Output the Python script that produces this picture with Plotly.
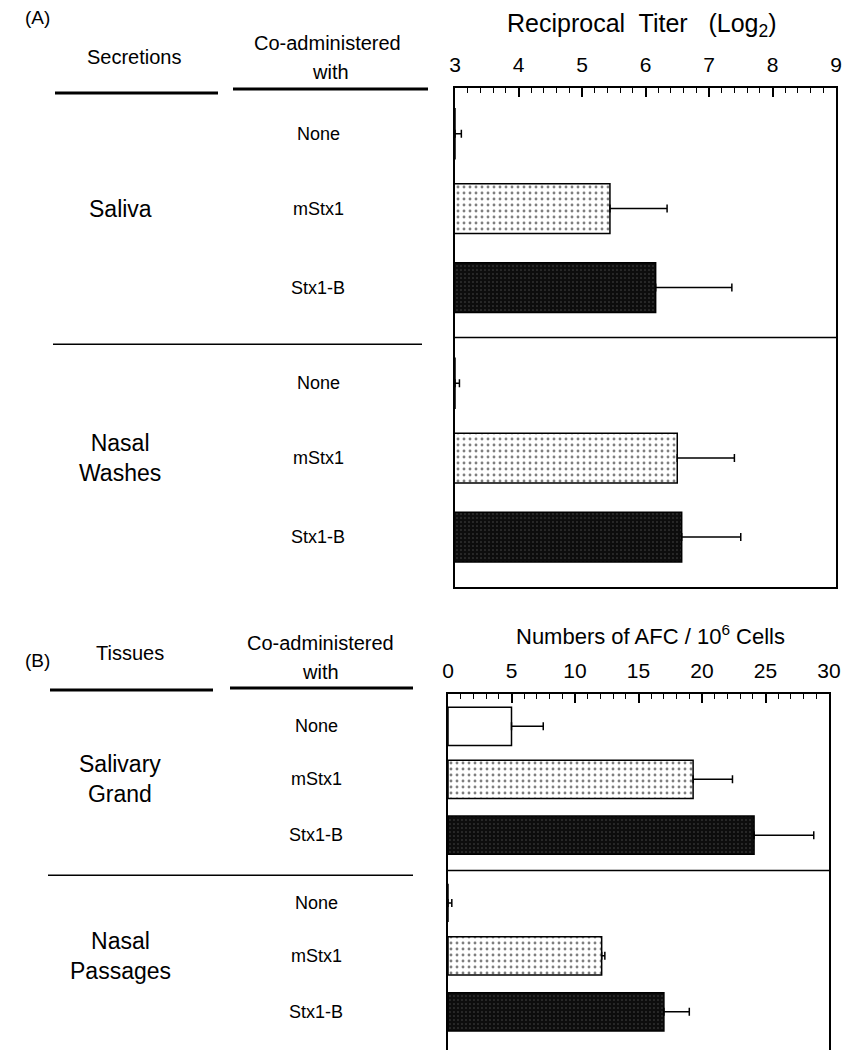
import plotly.graph_objects as go

# ---- data ----
treatments = ["None", "mStx1", "Stx1-B"]

# Panel A: reciprocal titer (log2)
secretions = ["Saliva", "Nasal<br>Washes"]
titer_mean = {"Saliva": [3.0, 5.44, 6.16], "Nasal<br>Washes": [3.0, 6.5, 6.57]}
titer_err = {"Saliva": [0.1, 0.9, 1.2], "Nasal<br>Washes": [0.07, 0.9, 0.93]}

# Panel B: antibody-forming cells per 10^6 cells
tissues = ["Salivary<br>Grand", "Nasal<br>Passages"]
afc_mean = {"Salivary<br>Grand": [5.0, 19.3, 24.1], "Nasal<br>Passages": [0.0, 12.1, 17.0]}
afc_err = {"Salivary<br>Grand": [2.5, 3.1, 4.7], "Nasal<br>Passages": [0.3, 0.25, 2.0]}

titer_ticks = [3, 4, 5, 6, 7, 8, 9]
afc_ticks = [0, 5, 10, 15, 20, 25, 30]

# ---- layout helpers ----
W, H = 843, 1050
FONT = "Liberation Sans, Arial, Helvetica, sans-serif"
ROW_OFFSETS = [0.55, 1.45, 2.4]      # row centres inside each 3-unit group


def px(x):
    return x / W


def py(y):
    return 1 - y / H


def fill_style(i):
    if i == 0:
        return dict(color="white")
    if i == 1:
        return dict(color="white",
                    pattern=dict(shape=".", fgcolor="black", bgcolor="white",
                                 size=6, solidity=0.18))
    return dict(color="#111111",
                pattern=dict(shape=".", fgcolor="#8a8a8a", bgcolor="#0d0d0d",
                             size=4, solidity=0.12))


fig = go.Figure()


def add_panel(groups, means, errs, xa, ya, width):
    for g, grp in enumerate(groups):
        for i, t in enumerate(treatments):
            yv = g * 3 + ROW_OFFSETS[i]
            st = fill_style(i)
            fig.add_trace(go.Bar(
                x=[means[grp][i]], y=[yv], orientation="h", width=width,
                marker=dict(line=dict(color="black", width=1.5), **st),
                error_x=dict(type="data", array=[errs[grp][i]], arrayminus=[0],
                             symmetric=False, color="black", thickness=1.5, width=4),
                xaxis=xa, yaxis=ya, showlegend=False, name=t,
            ))


add_panel(secretions, titer_mean, titer_err, "x", "y", 0.6)
add_panel(tissues, afc_mean, afc_err, "x2", "y2", 0.65)

axis_font = dict(family=FONT, size=21, color="black")
minor_ticks = dict(ticks="inside", ticklen=5, tickcolor="black", tickwidth=1.2)
common = dict(showline=True, linecolor="black", linewidth=1.5, showgrid=False,
              zeroline=False, automargin=False)

fig.update_layout(
    width=W, height=H, margin=dict(l=0, r=0, t=0, b=0, autoexpand=False),
    paper_bgcolor="white", plot_bgcolor="white",
    barmode="overlay", font=dict(family=FONT, color="black"),
    xaxis=dict(domain=[px(455), px(836)], range=[3, 9], side="top",
               tickvals=titer_ticks, ticks="inside", ticklen=9, tickwidth=1.5,
               tickcolor="black", tickfont=axis_font, ticklabelstandoff=6,
               minor=dict(dtick=0.2, **minor_ticks), mirror=True, anchor="y", **common),
    yaxis=dict(domain=[py(587), py(88)], range=[6, 0], showticklabels=False,
               mirror=True, ticks="", anchor="x", **common),
    xaxis2=dict(domain=[px(448), px(829)], range=[0, 30], side="top",
                tickvals=afc_ticks, ticks="inside", ticklen=9, tickwidth=1.5,
                tickcolor="black", tickfont=axis_font, ticklabelstandoff=6,
                minor=dict(dtick=1, **minor_ticks), mirror=False, anchor="y2", **common),
    yaxis2=dict(domain=[0, py(694)], range=[6.05, 0], showticklabels=False,
                mirror=True, ticks="", anchor="x2", **common),
)

shapes = []
annotations = []


def text(x, y, s, size, xref="paper", yref="paper", xanchor="center"):
    annotations.append(dict(x=x, y=y, xref=xref, yref=yref, text=s, showarrow=False,
                            xanchor=xanchor, yanchor="middle",
                            font=dict(family=FONT, size=size, color="black")))


def hline(x0, x1, y0, y1, w, xref="paper", yref="paper"):
    shapes.append(dict(type="line", x0=x0, x1=x1, y0=y0, y1=y1, xref=xref, yref=yref,
                       line=dict(color="black", width=w)))


# axis titles
text(px(642), py(25), "Reciprocal  Titer   (Log<sub>2</sub>)", 25)
text(px(650), py(635), "Numbers of AFC / 10<sup>6</sup> Cells", 22)

# panel letters and column headers
text(px(37), py(18), "(A)", 19)
text(px(134), py(57), "Secretions", 20)
text(px(327), py(43), "Co-administered", 20)
text(px(330), py(72), "with", 20)
hline(px(55), px(218), py(93), py(93), 3)
hline(px(233), px(428), py(89), py(89), 3)

text(px(37), py(660), "(B)", 19)
text(px(130), py(653), "Tissues", 20)
text(px(320), py(643), "Co-administered", 20)
text(px(320), py(672), "with", 20)
hline(px(50), px(213), py(690), py(690), 3)
hline(px(230), px(413), py(688), py(688), 3)

# row labels, group labels and group dividers
for groups, ya, xlab, xgrp, xl0, xl1, xa in [
    (secretions, "y", 318, 120, 53, 422, "x"),
    (tissues, "y2", 316, 120, 48, 413, "x2"),
]:
    for g, grp in enumerate(groups):
        for i, t in enumerate(treatments):
            text(px(xlab), g * 3 + ROW_OFFSETS[i], t, 18, yref=ya)
        text(px(xgrp), g * 3 + ROW_OFFSETS[1], grp, 23, yref=ya)
    hline(px(xl0), px(xl1), 3.08, 3.08, 1.5, yref=ya)
    lo, hi = (3, 9) if xa == "x" else (0, 30)
    hline(lo, hi, 3, 3, 1.5, xref=xa, yref=ya)

fig.update_layout(shapes=shapes, annotations=annotations)

fig.write_html("out.html")
